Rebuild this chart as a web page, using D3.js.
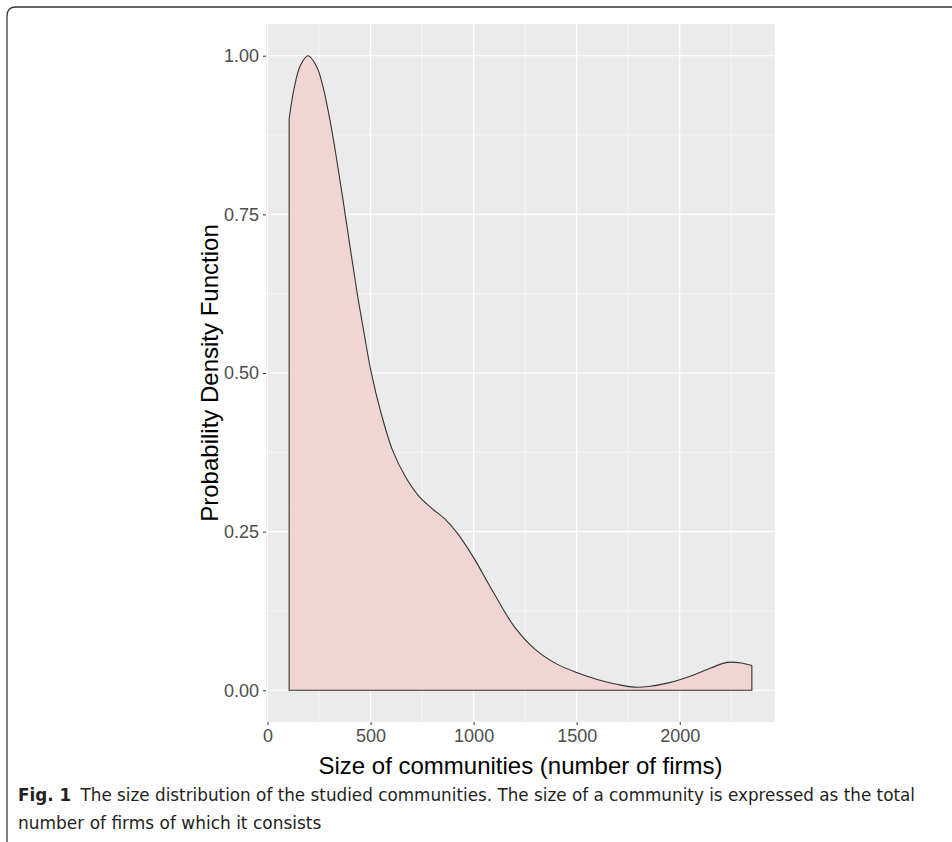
<!DOCTYPE html>
<html>
<head>
<meta charset="utf-8">
<script src="https://cdn.jsdelivr.net/npm/d3@7"></script>
<style>
  body { margin: 0; background: #fff; }
  svg { display: block; }
</style>
</head>
<body>
<svg id="chart"></svg>
<script>
// community size (number of firms) and estimated density
const sizes = [105, 130, 160, 197, 240, 270, 308, 334, 364, 400, 434, 470, 502, 550, 607, 670, 734, 800,
  860, 920, 1000, 1100, 1200, 1300, 1400, 1500, 1600, 1700, 1780, 1850, 1950, 2050, 2150, 2230, 2300, 2350];
const density = [0.900, 0.950, 0.985, 1.000, 0.982, 0.950, 0.890, 0.840, 0.778, 0.700, 0.628, 0.560, 0.503, 0.438, 0.378, 0.336, 0.306, 0.286,
  0.270, 0.248, 0.209, 0.152, 0.099, 0.064, 0.042, 0.028, 0.017, 0.009, 0.005, 0.006, 0.012, 0.022, 0.035, 0.044, 0.043, 0.039];
const xTicks = [0, 500, 1000, 1500, 2000];
const xMinor = [250, 750, 1250, 1750, 2250];
const yTicks = [0, 0.25, 0.5, 0.75, 1];
const yMinor = [0.125, 0.375, 0.625, 0.875];
const captionBold = "Fig. 1";
const captionLine1 = "The size distribution of the studied communities. The size of a community is expressed as the total";
const captionLine2 = "number of firms of which it consists";

const width = 952, height = 842;
const panel = {left: 266, right: 775, top: 24, bottom: 722};

const svg = d3.select('#chart')
    .attr('width', width)
    .attr('height', height);

// figure frame (top and left edge with rounded corner)
svg.append('path')
    .attr('d', 'M7,842 L7,16 Q7,7 16,7 L952,7')
    .attr('fill', 'none')
    .attr('stroke', '#3a3a3a')
    .attr('stroke-width', 1.3);

const data = sizes.map((s, i) => ({x: s, y: density[i]}));

// ggplot-style 5% expansion on both axes
const xExt = d3.extent(sizes);
const xPad = (xExt[1] - xExt[0]) * 0.05;
const x = d3.scaleLinear()
    .domain([xExt[0] - xPad, xExt[1] + xPad])
    .range([panel.left, panel.right]);
const y = d3.scaleLinear()
    .domain([-0.05, 1.05])
    .range([panel.bottom, panel.top]);

svg.append('rect')
    .attr('x', panel.left)
    .attr('y', panel.top)
    .attr('width', panel.right - panel.left)
    .attr('height', panel.bottom - panel.top)
    .attr('fill', '#ebebeb');

const grid = svg.append('g');
grid.selectAll('.xminor').data(xMinor).enter().append('line')
    .attr('x1', d => x(d)).attr('x2', d => x(d))
    .attr('y1', panel.top).attr('y2', panel.bottom)
    .attr('stroke', '#fff').attr('stroke-width', 0.6);
grid.selectAll('.yminor').data(yMinor).enter().append('line')
    .attr('y1', d => y(d)).attr('y2', d => y(d))
    .attr('x1', panel.left).attr('x2', panel.right)
    .attr('stroke', '#fff').attr('stroke-width', 0.6);
grid.selectAll('.xmajor').data(xTicks).enter().append('line')
    .attr('x1', d => x(d)).attr('x2', d => x(d))
    .attr('y1', panel.top).attr('y2', panel.bottom)
    .attr('stroke', '#fff').attr('stroke-width', 1.2);
grid.selectAll('.ymajor').data(yTicks).enter().append('line')
    .attr('y1', d => y(d)).attr('y2', d => y(d))
    .attr('x1', panel.left).attr('x2', panel.right)
    .attr('stroke', '#fff').attr('stroke-width', 1.2);

// density area with outline down to the baseline
const line = d3.line()
    .x(d => x(d.x))
    .y(d => y(d.y))
    .curve(d3.curveCatmullRom.alpha(0.5));
const first = data[0], last = data[data.length - 1];
const outline = 'M' + x(first.x) + ',' + y(0) + 'L' + line(data).slice(1) +
    'L' + x(last.x) + ',' + y(0) + 'Z';
svg.append('path')
    .attr('d', outline)
    .attr('fill', '#f1d5d3')
    .attr('stroke', '#333')
    .attr('stroke-width', 1.1)
    .attr('stroke-linejoin', 'round');

// axes
const xAxis = svg.append('g')
    .attr('transform', 'translate(0,' + panel.bottom + ')')
    .call(d3.axisBottom(x).tickValues(xTicks).tickFormat(d3.format('d')).tickSize(3).tickPadding(4));
const yAxis = svg.append('g')
    .attr('transform', 'translate(' + panel.left + ',0)')
    .call(d3.axisLeft(y).tickValues(yTicks).tickFormat(d3.format('.2f')).tickSize(3).tickPadding(4));
[xAxis, yAxis].forEach(function(g) {
  g.select('.domain').remove();
  g.selectAll('line').attr('stroke', '#333');
  g.selectAll('text')
      .attr('fill', '#4d4d4d')
      .style('font-family', '"Liberation Sans", Arial, sans-serif')
      .style('font-size', '18px');
});

svg.append('text')
    .attr('x', (panel.left + panel.right) / 2)
    .attr('y', 774)
    .attr('text-anchor', 'middle')
    .style('font-family', '"Liberation Sans", Arial, sans-serif')
    .style('font-size', '24px')
    .attr('fill', '#000')
    .text('Size of communities (number of firms)');

svg.append('text')
    .attr('transform', 'translate(218,' + ((panel.top + panel.bottom) / 2) + ') rotate(-90)')
    .attr('text-anchor', 'middle')
    .style('font-family', '"Liberation Sans", Arial, sans-serif')
    .style('font-size', '24px')
    .attr('fill', '#000')
    .text('Probability Density Function');

// caption, stretched to the printed line width
const capFont = '"Liberation Sans Narrow", "DejaVu Sans Condensed", sans-serif';
const cap = svg.append('text')
    .attr('x', 18)
    .attr('y', 801)
    .style('font-family', capFont)
    .style('font-size', '18px')
    .attr('fill', '#231f20');
cap.append('tspan').attr('font-weight', 'bold').text(captionBold);
cap.append('tspan').attr('dx', 9).text(captionLine1);

const cap2 = svg.append('text')
    .attr('x', 18)
    .attr('y', 829)
    .style('font-family', capFont)
    .style('font-size', '18px')
    .attr('fill', '#231f20')
    .text(captionLine2);

const natural1 = cap.node().getComputedTextLength();
const stretch = (915 - 18) / natural1;
cap.attr('textLength', 915 - 18).attr('lengthAdjust', 'spacingAndGlyphs');
cap2.attr('textLength', cap2.node().getComputedTextLength() * stretch)
    .attr('lengthAdjust', 'spacingAndGlyphs');
</script>
</body>
</html>
